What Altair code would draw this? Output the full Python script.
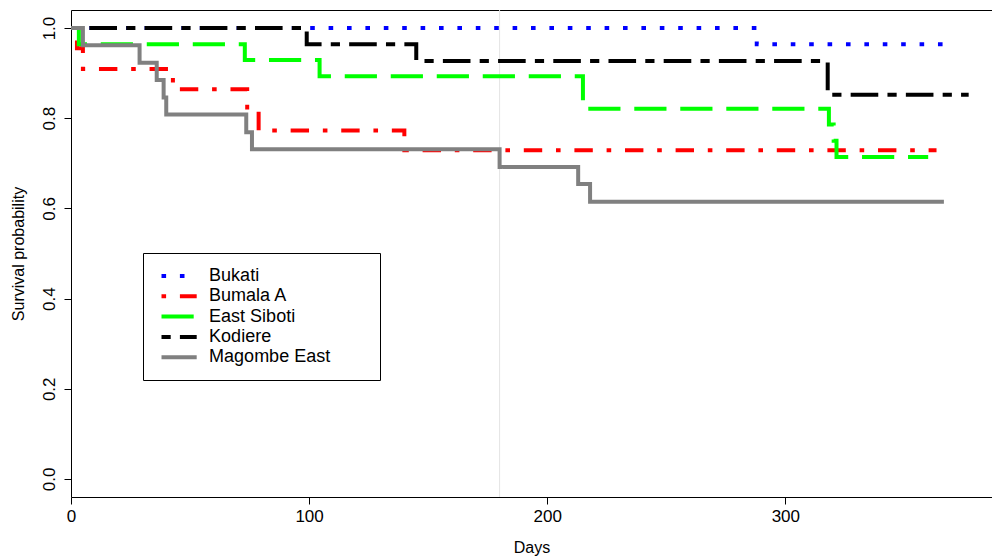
import altair as alt
import pandas as pd

# ---- data ----
series = ["Bukati", "Bumala A", "East Siboti", "Kodiere", "Magombe East"]
colors = ["#0000FF", "#FF0000", "#00FF00", "#000000", "#808080"]
dashes = [[4.6, 13.8], [4.6, 13.8, 18.4, 13.8], [32.2, 13.8],
          [9.2, 9.2, 27.6, 9.2], [10, 0]]

bukati_t = [0, 288, 371]
bukati_s = [1.0, 0.964, 0.964]
bumala_t = [0, 2.5, 5, 42.8, 74, 78.8, 140, 363.5]
bumala_s = [1.0, 0.955, 0.909, 0.864, 0.818, 0.773, 0.729, 0.729]
siboti_t = [0, 3.3, 73, 104.4, 215, 318.3, 320.3, 321.5, 360]
siboti_s = [1.0, 0.964, 0.929, 0.893, 0.821, 0.786, 0.75, 0.714, 0.714]
kodiere_t = [0, 99, 145, 317.8, 377]
kodiere_s = [1.0, 0.964, 0.927, 0.852, 0.852]
magombe_t = [0, 5, 28.8, 36, 38.9, 40, 73.6, 76, 180, 213, 218, 366.6]
magombe_s = [1.0, 0.962, 0.923, 0.885, 0.846, 0.808, 0.769, 0.731, 0.692,
             0.654, 0.615, 0.615]

ref_day = [180]
x_ticks = [0, 100, 200, 300]
y_ticks = [0.0, 0.2, 0.4, 0.6, 0.8, 1.0]
x_domain = [0, 386.8]
y_domain = [-0.04, 1.04]

rows = []
for name, ts, ss in zip(series,
                        [bukati_t, bumala_t, siboti_t, kodiere_t, magombe_t],
                        [bukati_s, bumala_s, siboti_s, kodiere_s, magombe_s]):
    for t, s in zip(ts, ss):
        rows.append({"site": name, "day": t, "surv": s})
df = pd.DataFrame(rows)
ref_df = pd.DataFrame({"day": ref_day})

FONT = "Liberation Sans"
xscale = alt.Scale(domain=x_domain, nice=False, zero=False)
yscale = alt.Scale(domain=y_domain, nice=False, zero=False)


def make_legend():
    # an empty title on the right only widens the legend box, as in the reference
    return alt.Legend(
        orient="none", legendX=72, legendY=243,
        title="\u00a0", titleOrient="right", titlePadding=37,
        titleFontSize=1,
        symbolType="M-2.2,0H2.2", symbolSize=256,
        symbolStrokeWidth=4, symbolOffset=13.1,
        labelOffset=20, labelFontSize=18, labelFont=FONT,
        labelColor="black", padding=13, rowPadding=1.3,
        strokeColor="black", fillColor="white")


ref_rule = alt.Chart(ref_df).mark_rule(color="#e4e4e4", strokeWidth=1).encode(
    x=alt.X("day:Q", scale=xscale,
            axis=alt.Axis(orient="top", labels=False, ticks=False, title=None,
                          grid=False, domain=True, domainColor="black",
                          domainWidth=1))
)

lines = alt.Chart(df).mark_line(
    interpolate="step-after", strokeWidth=4, strokeCap="butt", strokeJoin="miter"
).encode(
    x=alt.X("day:Q", scale=xscale,
            axis=alt.Axis(values=x_ticks, title="Days", grid=False,
                          format="d", labelFlush=False)),
    y=alt.Y("surv:Q", scale=yscale,
            axis=alt.Axis(values=y_ticks, title="Survival probability",
                          grid=False, format=".1f", labelAngle=270,
                          labelFlush=False)),
    color=alt.Color("site:N", scale=alt.Scale(domain=series, range=colors),
                    legend=make_legend()),
    strokeDash=alt.StrokeDash("site:N",
                              scale=alt.Scale(domain=series, range=dashes),
                              legend=make_legend()),
)

chart = alt.layer(ref_rule, lines).resolve_axis(x="independent").properties(
    width=921, height=487,
    autosize=alt.AutoSizeParams(type="none"),
    padding={"left": 71, "top": 10, "right": 0, "bottom": 62},
    background="white",
).configure_view(stroke=None).configure_axis(
    labelFont=FONT, titleFont=FONT, labelFontSize=17, titleFontSize=16,
    labelColor="black", titleColor="black", titleFontWeight="normal",
    domainColor="black", tickColor="black", domainWidth=1, tickWidth=1,
    tickSize=7, labelPadding=4,
).configure_axisX(titlePadding=15).configure_axisY(labelPadding=6, titlePadding=14)

chart.save("out.html", embed_options={"renderer": "svg", "actions": False})
